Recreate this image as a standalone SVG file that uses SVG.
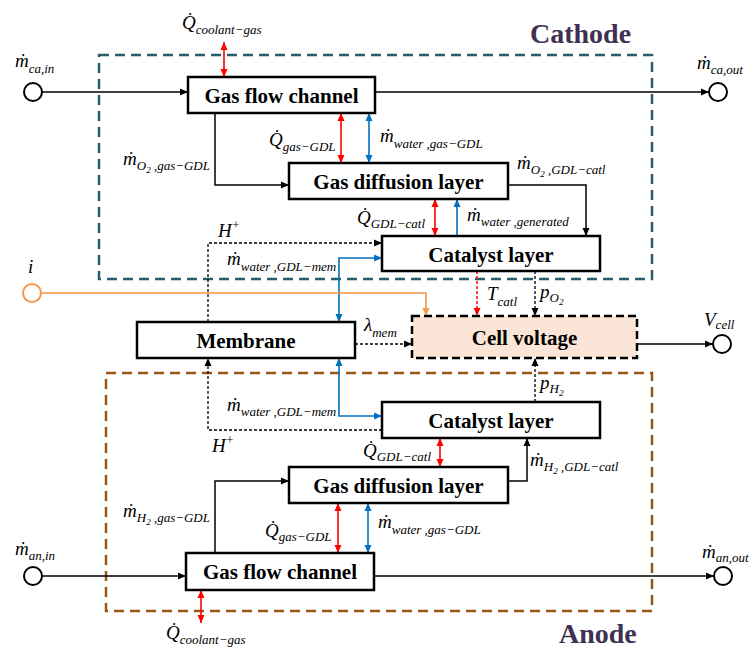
<svg xmlns="http://www.w3.org/2000/svg" width="751" height="649" viewBox="0 0 751 649">
<defs>
<style>
.bg{fill:#fff}
.reg{fill:none;stroke-width:2.5;stroke-dasharray:10 6}
.box{fill:#fff;stroke:#000;stroke-width:2.5}
.cv{fill:#FBE5D6;stroke:#000;stroke-width:2.5;stroke-dasharray:8 4}
.lbl{font-family:'Liberation Serif','DejaVu Serif',serif;font-weight:bold;font-size:21px;text-anchor:middle;fill:#000}
.ttl{font-family:'Liberation Serif','DejaVu Serif',serif;font-weight:bold;font-size:28px;fill:#403152}
.m{font-family:'Liberation Serif','DejaVu Serif',serif;font-style:italic;font-size:19px;fill:#000}
.s{font-size:13px}
.ss{font-size:9px}
.sup{font-size:12px}
.ln{fill:none;stroke:#000;stroke-width:1.5}
.dsh{fill:none;stroke:#000;stroke-width:1.3;stroke-dasharray:3 2}
.red{fill:none;stroke:#FF0000;stroke-width:1.6}
.redd{fill:none;stroke:#FF0000;stroke-width:1.5;stroke-dasharray:3 2}
.blu{fill:none;stroke:#0070C0;stroke-width:1.6}
.org{fill:none;stroke:#F79646;stroke-width:1.6}
.port{fill:#fff;stroke:#000;stroke-width:2}
</style>
<marker id="ak" markerUnits="userSpaceOnUse" markerWidth="9" markerHeight="8" refX="8" refY="4" orient="auto-start-reverse"><path d="M0,0.5 L8,4 L0,7.5 z" fill="#000"/></marker>
<marker id="ar" markerUnits="userSpaceOnUse" markerWidth="9" markerHeight="8" refX="8" refY="4" orient="auto-start-reverse"><path d="M0,0.5 L8,4 L0,7.5 z" fill="#FF0000"/></marker>
<marker id="ab" markerUnits="userSpaceOnUse" markerWidth="9" markerHeight="8" refX="8" refY="4" orient="auto-start-reverse"><path d="M0,0.5 L8,4 L0,7.5 z" fill="#0070C0"/></marker>
<marker id="ao" markerUnits="userSpaceOnUse" markerWidth="9" markerHeight="8" refX="8" refY="4" orient="auto-start-reverse"><path d="M0,0.5 L8,4 L0,7.5 z" fill="#F79646"/></marker>
</defs>
<rect class="bg" x="0" y="0" width="751" height="649"/>

<g id="regions">
<rect class="reg" x="99" y="55" width="553" height="224" stroke="#2A5D6B"/>
<rect class="reg" x="106" y="373" width="546" height="238" stroke="#9A5516"/>
<text class="ttl" x="530" y="43">Cathode</text>
<text class="ttl" x="559" y="643">Anode</text>
</g>

<g id="connectors">
<line class="ln" x1="42" y1="92" x2="188" y2="92" marker-end="url(#ak)"/>
<line class="ln" x1="375" y1="92" x2="709" y2="92" marker-end="url(#ak)"/>
<line class="red" x1="224" y1="42" x2="224" y2="77" marker-start="url(#ar)" marker-end="url(#ar)"/>
<polyline class="ln" points="215,113 215,185 289,185" marker-end="url(#ak)"/>
<line class="red" x1="341" y1="113" x2="341" y2="163" marker-start="url(#ar)" marker-end="url(#ar)"/>
<line class="blu" x1="369" y1="113" x2="369" y2="163" marker-start="url(#ab)" marker-end="url(#ab)"/>
<polyline class="ln" points="508,185 586,185 586,236" marker-end="url(#ak)"/>
<line class="red" x1="435" y1="199" x2="435" y2="236" marker-start="url(#ar)" marker-end="url(#ar)"/>
<line class="blu" x1="457" y1="236" x2="457" y2="199" marker-end="url(#ab)"/>
<polyline class="dsh" points="208,322 208,243 382,243" marker-end="url(#ak)"/>
<polyline class="blu" points="339,322 339,258 382,258" marker-start="url(#ab)" marker-end="url(#ab)"/>
<polyline class="org" points="41,293 426,293 426,316" marker-end="url(#ao)"/>
<line class="dsh" x1="355" y1="344" x2="412" y2="344" marker-end="url(#ak)"/>
<line class="redd" x1="477" y1="271" x2="477" y2="316" marker-end="url(#ar)"/>
<line class="dsh" x1="535" y1="271" x2="535" y2="316" marker-end="url(#ak)"/>
<line class="ln" x1="637" y1="344" x2="713" y2="344" marker-end="url(#ak)"/>
<line class="dsh" x1="535" y1="402" x2="535" y2="358" marker-end="url(#ak)"/>
<polyline class="blu" points="339,358 339,416 382,416" marker-start="url(#ab)" marker-end="url(#ab)"/>
<polyline class="dsh" points="382,430 208,430 208,358" marker-end="url(#ak)"/>
<line class="red" x1="440" y1="438" x2="440" y2="467" marker-start="url(#ar)" marker-end="url(#ar)"/>
<polyline class="ln" points="508,481 527,481 527,438" marker-end="url(#ak)"/>
<polyline class="ln" points="215,553 215,481 289,481" marker-end="url(#ak)"/>
<line class="red" x1="338" y1="503" x2="338" y2="553" marker-start="url(#ar)" marker-end="url(#ar)"/>
<line class="blu" x1="368" y1="503" x2="368" y2="553" marker-start="url(#ab)" marker-end="url(#ab)"/>
<line class="ln" x1="42" y1="576" x2="186" y2="576" marker-end="url(#ak)"/>
<line class="ln" x1="374" y1="576" x2="714" y2="576" marker-end="url(#ak)"/>
<line class="red" x1="201" y1="590" x2="201" y2="623" marker-start="url(#ar)" marker-end="url(#ar)"/>
</g>

<g id="ports">
<circle class="port" cx="33" cy="92" r="9"/>
<circle class="port" cx="718" cy="92" r="9"/>
<circle cx="32" cy="293" r="9" fill="#fff" stroke="#F79646" stroke-width="2"/>
<circle class="port" cx="722" cy="344" r="9"/>
<circle class="port" cx="33" cy="576" r="9"/>
<circle class="port" cx="723" cy="576" r="9"/>
</g>

<g id="ca-gfc"><rect class="box" x="188" y="77" width="187" height="36"/><text class="lbl" x="281.5" y="103">Gas flow channel</text></g>
<g id="ca-gdl"><rect class="box" x="289" y="163" width="219" height="36"/><text class="lbl" x="398.5" y="189">Gas diffusion layer</text></g>
<g id="ca-cat"><rect class="box" x="382" y="236" width="218" height="35"/><text class="lbl" x="491" y="262">Catalyst layer</text></g>
<g id="membrane"><rect class="box" x="137" y="322" width="218" height="36"/><text class="lbl" x="246" y="348">Membrane</text></g>
<g id="cell-voltage"><rect class="cv" x="412" y="316" width="225" height="42"/><text class="lbl" x="524.5" y="345">Cell voltage</text></g>
<g id="an-cat"><rect class="box" x="382" y="402" width="218" height="36"/><text class="lbl" x="491" y="428">Catalyst layer</text></g>
<g id="an-gdl"><rect class="box" x="289" y="467" width="219" height="36"/><text class="lbl" x="398.5" y="493">Gas diffusion layer</text></g>
<g id="an-gfc"><rect class="box" x="186" y="553" width="188" height="37"/><text class="lbl" x="280" y="579">Gas flow channel</text></g>

<g id="labels">
<text class="m" x="15" y="67">ṁ<tspan class="s" dy="6">ca,in</tspan></text>
<text class="m" x="182" y="29">Q̇<tspan class="s" dy="5">coolant−gas</tspan></text>
<text class="m" x="697" y="69">ṁ<tspan class="s" dy="5">ca,out</tspan></text>
<text class="m" x="123" y="165">ṁ<tspan class="s" dy="5">O</tspan><tspan class="ss" dy="3">2</tspan><tspan class="s" dy="-3"> ,gas−GDL</tspan></text>
<text class="m" x="269" y="146">Q̇<tspan class="s" dy="5">gas−GDL</tspan></text>
<text class="m" x="380" y="142">ṁ<tspan class="s" dy="6">water ,gas−GDL</tspan></text>
<text class="m" x="517" y="169">ṁ<tspan class="s" dy="5">O</tspan><tspan class="ss" dy="3">2</tspan><tspan class="s" dy="-3"> ,GDL−catl</tspan></text>
<text class="m" x="357" y="224">Q̇<tspan class="s" dy="4">GDL−catl</tspan></text>
<text class="m" x="467" y="221">ṁ<tspan class="s" dy="5">water ,generated</tspan></text>
<text class="m" x="218" y="237">H<tspan class="sup" dy="-8">+</tspan></text>
<text class="m" x="227" y="265">ṁ<tspan class="s" dy="6">water ,GDL−mem</tspan></text>
<text class="m" x="28" y="273">i</text>
<text class="m" x="487" y="300">T<tspan class="s" dy="6">catl</tspan></text>
<text class="m" x="540" y="298">p<tspan class="s" dy="4">O</tspan><tspan class="ss" dy="3">2</tspan></text>
<text class="m" x="364" y="331">λ<tspan class="s" dy="6">mem</tspan></text>
<text class="m" x="704" y="326">V<tspan class="s" dy="3">cell</tspan></text>
<text class="m" x="540" y="389">p<tspan class="s" dy="4">H</tspan><tspan class="ss" dy="3">2</tspan></text>
<text class="m" x="227" y="411">ṁ<tspan class="s" dy="5">water ,GDL−mem</tspan></text>
<text class="m" x="212" y="452">H<tspan class="sup" dy="-8">+</tspan></text>
<text class="m" x="363" y="457">Q̇<tspan class="s" dy="4">GDL−catl</tspan></text>
<text class="m" x="530" y="466">ṁ<tspan class="s" dy="5">H</tspan><tspan class="ss" dy="3">2</tspan><tspan class="s" dy="-3"> ,GDL−catl</tspan></text>
<text class="m" x="123" y="517">ṁ<tspan class="s" dy="5">H</tspan><tspan class="ss" dy="3">2</tspan><tspan class="s" dy="-3"> ,gas−GDL</tspan></text>
<text class="m" x="265" y="537">Q̇<tspan class="s" dy="4">gas−GDL</tspan></text>
<text class="m" x="378" y="528">ṁ<tspan class="s" dy="6">water ,gas−GDL</tspan></text>
<text class="m" x="15" y="555">ṁ<tspan class="s" dy="5">an,in</tspan></text>
<text class="m" x="702" y="558">ṁ<tspan class="s" dy="4">an,out</tspan></text>
<text class="m" x="166" y="639">Q̇<tspan class="s" dy="5">coolant−gas</tspan></text>
</g>
</svg>
